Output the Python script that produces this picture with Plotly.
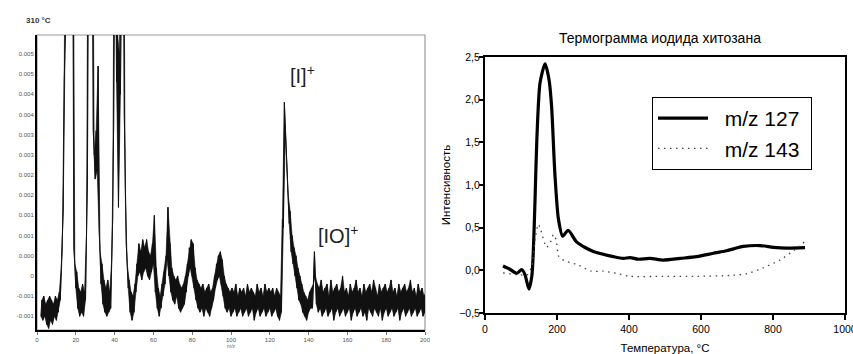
import plotly.graph_objects as go

# ---------------- Mass spectrum at 310 °C (left panel) ----------------
# m/z scale, unit steps; each unit carries the lower and upper extent of the
# noisy trace (in units of 1e-4).  Values of 120 are off-scale peaks.
MZ = list(range(2, 201))
LOWER = [
    -10, -11, -10, -12, -13, -11, -12, -10, -11, -9,      # 2-11
    -6, 6, 48, 120, 120, 120, 120, 7, -3, -8,              # 12-21
    -10, -9, -10, -6, 24, 120, 120, 36, 24, 26,            # 22-31
    12, -2, -7, -9, -10, -9, -8, 14, 120, 48,              # 32-41
    17, 45, 120, 40, 8, -3, -9, -11, -9, -4,               # 42-51
    0, 1, -1, 1, 2, 0, -1, 1, 3, -4,                       # 52-61
    -8, -10, -8, -5, -2, 4, 0, -4, -6, -7,                 # 62-71
    -5, -8, -9, -8, -7, -4, 0, 2, 0, -3,                   # 72-81
    -6, -8, -9, -8, -10, -8, -9, -10, -8, -6,              # 82-91
    -3, -1, 0, -2, -5, -8, -9, -8, -10, -9,                # 92-101
    -8, -10, -9, -8, -10, -9, -8, -10, -9, -8,             # 102-111
    -11, -9, -8, -10, -9, -8, -10, -9, -8, -10,            # 112-121
    -9, -8, -10, -11, -9, 12, 36, 26, 13, 6,               # 122-131
    3, 0, -3, -6, -7, -9, -10, -11, -9, -8,                # 132-141
    -8, 6, -7, -9, -8, -10, -9, -8, -10, -9,               # 142-151
    -8, -11, -9, -8, -10, -9, -8, -10, -9, -8,             # 152-161
    -11, -9, -8, -10, -9, -8, -10, -9, -11, -8,            # 162-171
    -9, -10, -8, -9, -10, -8, -11, -9, -8, -10,            # 172-181
    -9, -8, -10, -9, -8, -11, -9, -8, -10, -9,             # 182-191
    -8, -10, -9, -8, -10, -9, -8, -10, -9,                 # 192-200
]
UPPER = [
    -6, -5, -7, -6, -5, -6, -7, -5, -6, -4,                # 2-11
    2, 16, 58, 120, 120, 120, 120, 3, 1, -3,               # 12-21
    -4, -2, -4, 10, 120, 120, 120, 30, 36, 52,             # 22-31
    6, 3, -1, -3, -1, -4, 4, 37, 120, 60,                  # 32-41
    55, 120, 120, 20, 3, -1, -4, -5, -2, 3,                # 42-51
    8, 6, 9, 7, 9, 6, 5, 8, 15, 2,                         # 52-61
    -3, -5, -2, 1, 5, 17, 8, 2, 0, -1,                     # 62-71
    0, -2, -3, -2, 0, 3, 7, 9, 8, 2,                       # 72-81
    -1, -2, -3, -2, -4, -3, -2, -4, -3, 0,                 # 82-91
    3, 5, 6, 4, 0, -2, -3, -4, -3, -4,                     # 92-101
    -2, -5, -3, -4, -3, -5, -2, -4, -3, -4,                # 102-111
    -5, -2, -4, -3, -5, -2, -4, -3, -4, -3,                # 112-121
    -5, -3, -4, -5, 14, 43, 31, 20, 16, 10,                # 122-131
    7, 5, 2, 0, -2, -4, -5, -6, -4, -3,                    # 132-141
    -2, 0, -2, -3, -1, -4, -3, -2, -5, -1,                 # 142-151
    -4, -3, -2, -4, -3, 0, -4, -3, -5, -2,                 # 152-161
    -4, -3, -1, -4, -3, -5, -2, -4, -3, -2,                # 162-171
    -4, -1, -3, -5, -2, -4, -3, -2, -4, -3,                # 172-181
    -1, -4, -3, -5, -2, -4, -3, -2, -4, -3,                # 182-191
    -1, -4, -3, -5, -2, -4, -3, -5, -4,                    # 192-200
]
assert len(LOWER) == len(MZ) == len(UPPER)
SCALE = 1e-4

MS_XTICKS = list(range(0, 201, 20))
MS_YTICKS = [0.0055, 0.005, 0.0045, 0.004, 0.0035, 0.003, 0.0025, 0.002,
             0.0015, 0.001, 0.0005, 0.0, -0.0005, -0.001]
MS_YTEXT = ["0.005", "0.005", "0.004", "0.004", "0.003", "0.003", "0.002",
            "0.002", "0.001", "0.001", "0.000", "0", "-0.001", "-0.001"]

# ---------------- Thermogram of chitosan iodide (right panel) ----------------
T_127 = [50, 70, 88, 102, 111, 122, 130, 134, 139, 144, 153, 167, 178, 185,
         194, 204, 216, 231, 255, 301, 357, 384, 403, 426, 458, 495, 542, 588,
         634, 671, 718, 764, 801, 838, 889]
I_127 = [0.05, 0.01, -0.035, 0.01, -0.05, -0.22, -0.07, 0.2, 0.83, 1.53, 2.2,
         2.42, 2.23, 1.92, 1.14, 0.60, 0.40, 0.47, 0.33, 0.22, 0.16, 0.14,
         0.15, 0.13, 0.14, 0.12, 0.14, 0.16, 0.20, 0.23, 0.28, 0.29, 0.27,
         0.26, 0.265]
T_143 = [50, 88, 118, 130, 139, 148, 155, 171, 182, 190, 198, 204, 213, 236,
         255, 296, 329, 366, 403, 495, 588, 681, 727, 773, 819, 866, 889]
I_143 = [-0.03, -0.05, -0.05, 0.05, 0.36, 0.54, 0.47, 0.27, 0.33, 0.42, 0.35,
         0.17, 0.13, 0.09, 0.07, -0.01, -0.01, -0.035, -0.07, -0.07, -0.07,
         -0.06, -0.04, 0.03, 0.12, 0.26, 0.34]
TG_XTICKS = [0, 200, 400, 600, 800, 1000]
TG_YTICKS = [-0.5, 0.0, 0.5, 1.0, 1.5, 2.0, 2.5]

W, H = 853, 354
FONT = "Liberation Sans, Arial, sans-serif"
NBSP = "\u00a0"


def px_x(p):
    return p / W


def px_y(p):
    return 1 - p / H


# zig-zag the trace between the lower and upper extent of every unit step
zx, zy = [], []
for m, lo, hi in zip(MZ, LOWER, UPPER):
    zx += [m, m + 0.5]
    zy += [lo * SCALE, hi * SCALE]

# closed band between the upper and lower extents (the dense noise)
band_x = [m + 0.5 for m in MZ] + [m for m in reversed(MZ)]
band_y = [v * SCALE for v in UPPER] + [v * SCALE for v in reversed(LOWER)]

fig = go.Figure()
fig.add_trace(go.Scatter(
    x=band_x, y=band_y, mode="lines", fill="toself", fillcolor="#111",
    line=dict(color="#111", width=0.6), showlegend=False,
    xaxis="x", yaxis="y", hoverinfo="skip"))
fig.add_trace(go.Scatter(
    x=zx, y=zy, mode="lines", line=dict(color="#111", width=1),
    showlegend=False, xaxis="x", yaxis="y", hoverinfo="skip"))

fig.add_trace(go.Scatter(
    x=T_127, y=I_127, mode="lines", name=NBSP * 2 + "m/z 127" + NBSP,
    line=dict(color="black", width=3.2, shape="spline", smoothing=0.7),
    xaxis="x2", yaxis="y2"))
fig.add_trace(go.Scatter(
    x=T_143, y=I_143, mode="lines", name=NBSP * 2 + "m/z 143" + NBSP,
    line=dict(color="#444", width=1.3, dash="1.5px,4.5px", shape="spline",
              smoothing=0.7),
    xaxis="x2", yaxis="y2"))

ms_left, ms_right, ms_top, ms_bottom = 37, 425, 35, 330
tg_left, tg_right, tg_top, tg_bottom = 485, 845, 57, 313

fig.update_layout(
    width=W, height=H, margin=dict(l=0, r=0, t=0, b=0, autoexpand=False),
    paper_bgcolor="white", plot_bgcolor="white",
    separators=", ",
    font=dict(family=FONT, color="black"),
    xaxis=dict(
        domain=[px_x(ms_left), px_x(ms_right)], range=[0, 200],
        tickvals=MS_XTICKS, ticks="outside", ticklen=3, tickcolor="#777",
        tickfont=dict(size=6, color="#555"), showgrid=False, zeroline=False,
        showline=True, linecolor="black", linewidth=2, automargin=False,
        title=dict(text="m/z", font=dict(size=5, color="#666"), standoff=2),
        anchor="y"),
    yaxis=dict(
        domain=[px_y(ms_bottom), px_y(ms_top)], range=[-0.00134, 0.00597],
        tickvals=MS_YTICKS, ticktext=MS_YTEXT, ticks="",
        tickfont=dict(size=6, color="#555"), showgrid=False, zeroline=False,
        showline=True, linecolor="black", linewidth=2, automargin=False,
        anchor="x"),
    xaxis2=dict(
        domain=[px_x(tg_left), px_x(tg_right)], range=[0, 1000],
        tickvals=TG_XTICKS, ticks="outside", ticklen=5, tickwidth=1.5,
        tickcolor="black", tickfont=dict(size=10.5), showgrid=False,
        zeroline=False, showline=True, linecolor="black", linewidth=2,
        mirror=True, automargin=False, ticklabeloverflow="allow",
        title=dict(text="Температура, °C", font=dict(size=11.5), standoff=12),
        anchor="y2"),
    yaxis2=dict(
        domain=[px_y(tg_bottom), px_y(tg_top)], range=[-0.5, 2.5],
        tickvals=TG_YTICKS, tickformat=".1f", ticks="outside", ticklen=4,
        tickwidth=1.5, tickcolor="black", tickfont=dict(size=10.5),
        ticklabelstandoff=-3,
        showgrid=False, zeroline=False, showline=True, linecolor="black",
        linewidth=2, mirror=True, automargin=False,
        title=dict(text="Интенсивность", font=dict(size=11.5), standoff=6),
        anchor="x2"),
    legend=dict(
        x=px_x(652), y=px_y(97), xanchor="left", yanchor="top",
        bgcolor="white", bordercolor="black", borderwidth=1,
        font=dict(size=21, family=FONT), itemwidth=50, tracegroupgap=0),
    showlegend=True,
)

# light frame around the spectrum box
fig.add_shape(type="rect", xref="paper", yref="paper",
              x0=px_x(ms_left), x1=px_x(ms_right),
              y0=px_y(ms_bottom), y1=px_y(ms_top),
              line=dict(color="#999", width=1.2), layer="below")

fig.add_annotation(text="<b>310 °C</b>", xref="paper", yref="paper",
                   x=px_x(24), y=px_y(21), xanchor="left", yanchor="middle",
                   showarrow=False, font=dict(size=8, color="#333"))
fig.add_annotation(text="[I]<sup>+</sup>", xref="x", yref="y",
                   x=129.5, y=0.0050, xanchor="left", yanchor="middle",
                   showarrow=False, font=dict(size=20, color="#222"))
fig.add_annotation(text="[IO]<sup>+</sup>", xref="x", yref="y",
                   x=144.0, y=0.00102, xanchor="left", yanchor="middle",
                   showarrow=False, font=dict(size=20, color="#222"))
fig.add_annotation(text="Термограмма иодида хитозана", xref="paper",
                   yref="paper", x=px_x(660), y=px_y(38), xanchor="center",
                   yanchor="middle", showarrow=False, font=dict(size=14))

fig.write_html("out.html")
